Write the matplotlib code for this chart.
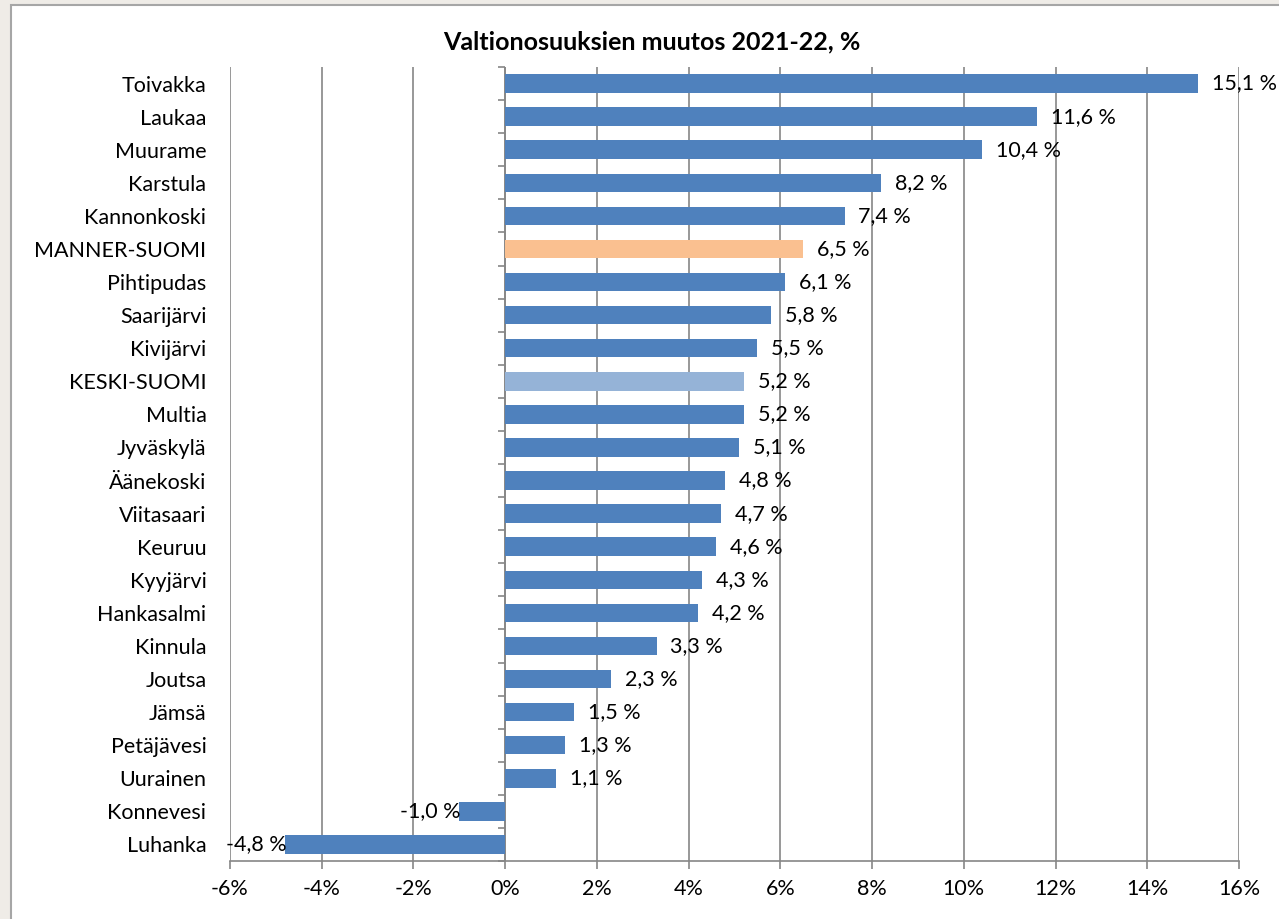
import numpy as np
import matplotlib.pyplot as plt
from matplotlib.patches import Rectangle
from matplotlib.ticker import FixedLocator

plt.rcParams['font.family'] = ['Lato', 'DejaVu Sans']

# Data (top to bottom)
kunnat = ["Toivakka", "Laukaa", "Muurame", "Karstula", "Kannonkoski", "MANNER-SUOMI",
          "Pihtipudas", "Saarijärvi", "Kivijärvi", "KESKI-SUOMI", "Multia", "Jyväskylä",
          "Äänekoski", "Viitasaari", "Keuruu", "Kyyjärvi", "Hankasalmi", "Kinnula",
          "Joutsa", "Jämsä", "Petäjävesi", "Uurainen", "Konnevesi", "Luhanka"]
muutos = [15.1, 11.6, 10.4, 8.2, 7.4, 6.5, 6.1, 5.8, 5.5, 5.2, 5.2, 5.1,
          4.8, 4.7, 4.6, 4.3, 4.2, 3.3, 2.3, 1.5, 1.3, 1.1, -1.0, -4.8]
xticks = [-6, -4, -2, 0, 2, 4, 6, 8, 10, 12, 14, 16]

blue = "#4F81BD"
colors = [blue] * len(kunnat)
colors[kunnat.index("MANNER-SUOMI")] = "#FAC090"
colors[kunnat.index("KESKI-SUOMI")] = "#95B3D7"

fs = 15.5

fig = plt.figure(figsize=(12.79, 9.19), dpi=100, facecolor="#EFECE7")
# white chart area with grey frame
fig.patches.append(Rectangle((11 / 1279, -0.05), 1.1, 1 - 5 / 919 + 0.05,
                             transform=fig.transFigure, facecolor="white",
                             edgecolor="#A6A6A6", linewidth=1.5, zorder=-10))

ax = fig.add_axes([230 / 1279, 1 - 861 / 919, 1009 / 1279, (861 - 67) / 919])
ax.set_facecolor("none")

y = np.arange(len(kunnat))
ax.barh(y, muutos, height=0.56, color=colors, zorder=3)
ax.set_ylim(len(kunnat) - 0.5, -0.5)
ax.set_xlim(-6, 16)

for yi, v in zip(y, muutos):
    txt = f"{v:.1f} %".replace(".", ",")
    if v >= 0:
        ax.annotate(txt, (v, yi), xytext=(10, 0), textcoords="offset points",
                    ha="left", va="center", fontsize=fs, zorder=4)
    else:
        ax.annotate(txt, (v, yi), xytext=(1, 0), textcoords="offset points",
                    ha="right", va="center", fontsize=fs, zorder=4)

ax.set_xticks(xticks)
ax.set_xticklabels([f"{t}%" for t in xticks], fontsize=fs)
ax.set_yticks(y)
ax.set_yticklabels(kunnat, fontsize=fs)
ax.tick_params(axis="y", length=0, pad=17)
ax.tick_params(axis="x", length=6, width=1.2, color="#868686", pad=7)
ax.grid(axis="x", color="#868686", linewidth=1.2, zorder=1)

for s in ["top", "right", "left"]:
    ax.spines[s].set_visible(False)
ax.spines["bottom"].set_color("#868686")
ax.spines["bottom"].set_linewidth(1.2)

# category axis at zero with small tick marks
ax.axvline(0, color="#868686", linewidth=1.2, zorder=2)
ax2 = ax.twinx()
ax2.set_ylim(ax.get_ylim())
ax2.set_facecolor("none")
for s in ["top", "left", "bottom"]:
    ax2.spines[s].set_visible(False)
ax2.spines["right"].set_position(("data", 0))
ax2.spines["right"].set_visible(False)
ax2.yaxis.set_major_locator(FixedLocator(np.arange(-0.5, len(kunnat), 1)))
ax2.tick_params(axis="y", direction="in", length=5, width=1.2, color="#868686",
                labelright=False)

fig.text(652 / 1279, 1 - 42 / 919, "Valtionosuuksien muutos 2021-22, %",
         ha="center", va="center", fontsize=18, fontweight="bold")

fig.savefig("out.png", dpi=100, facecolor=fig.get_facecolor())
